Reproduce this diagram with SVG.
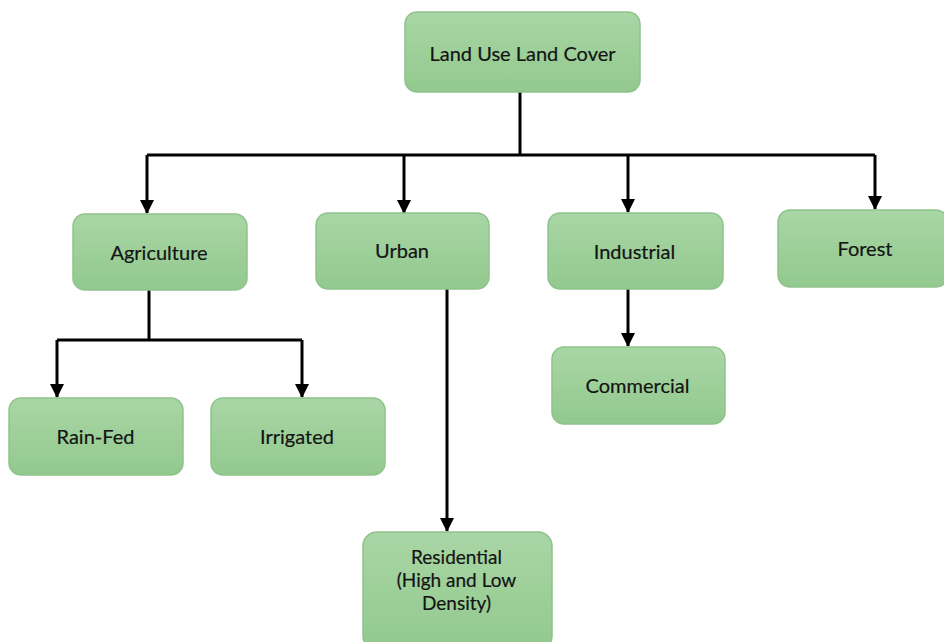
<svg xmlns="http://www.w3.org/2000/svg" width="944" height="642" viewBox="0 0 944 642">
<defs>
<linearGradient id="g" x1="0" y1="0" x2="0" y2="1">
<stop offset="0" stop-color="#a9d6a5"/>
<stop offset="1" stop-color="#92c98e"/>
</linearGradient>
<marker id="ah" markerWidth="14" markerHeight="14" refX="13" refY="7" orient="auto" markerUnits="userSpaceOnUse">
<path d="M0,0 L14,7 L0,14 Z" fill="#000"/>
</marker>
<style>
.box{fill:url(#g);stroke:#8fc28b;stroke-width:1.5}
.t{font-family:Lato,"Open Sans","Liberation Sans",sans-serif;font-size:20px;fill:#141414;stroke:#141414;stroke-width:0.2;text-anchor:middle}
.s{font-size:19px}
.c{fill:none;stroke:#000;stroke-width:3}
</style>
</defs>
<rect width="944" height="642" fill="#fff"/>
<g id="connectors">
<path class="c" d="M520,92 V155"/>
<path class="c" d="M147,155 H875"/>
<path class="c" d="M147,155 V213" marker-end="url(#ah)"/>
<path class="c" d="M404,155 V213" marker-end="url(#ah)"/>
<path class="c" d="M628,155 V212" marker-end="url(#ah)"/>
<path class="c" d="M875,155 V209" marker-end="url(#ah)"/>
<path class="c" d="M149,290 V340"/>
<path class="c" d="M57,340 H302"/>
<path class="c" d="M57,340 V397" marker-end="url(#ah)"/>
<path class="c" d="M302,340 V397" marker-end="url(#ah)"/>
<path class="c" d="M447,289 V531" marker-end="url(#ah)"/>
<path class="c" d="M628,289 V346" marker-end="url(#ah)"/>
</g>
<g id="root"><rect class="box" x="405" y="12" width="235" height="80" rx="12"/><text class="t" x="522.5" y="61">Land Use Land Cover</text></g>
<g id="agriculture"><rect class="box" x="73" y="214" width="174" height="76" rx="12"/><text class="t" x="159" y="260">Agriculture</text></g>
<g id="urban"><rect class="box" x="316" y="213" width="173" height="76" rx="12"/><text class="t" x="402" y="258">Urban</text></g>
<g id="industrial"><rect class="box" x="548" y="213" width="175" height="76" rx="12"/><text class="t" x="634.5" y="259">Industrial</text></g>
<g id="forest"><rect class="box" x="778" y="210" width="170" height="77" rx="12"/><text class="t" x="865" y="256">Forest</text></g>
<g id="commercial"><rect class="box" x="552" y="347" width="173" height="77" rx="12"/><text class="t" x="637.5" y="393">Commercial</text></g>
<g id="rainfed"><rect class="box" x="9" y="398" width="174" height="77" rx="12"/><text class="t" x="95.5" y="444">Rain-Fed</text></g>
<g id="irrigated"><rect class="box" x="211" y="398" width="174" height="77" rx="12"/><text class="t" x="297" y="444">Irrigated</text></g>
<g id="residential"><rect class="box" x="363" y="532" width="189" height="118" rx="14"/><text class="t s" x="456.5" y="564">Residential</text><text class="t s" x="456.5" y="587">(High and Low</text><text class="t s" x="456.5" y="610">Density)</text></g>
</svg>
